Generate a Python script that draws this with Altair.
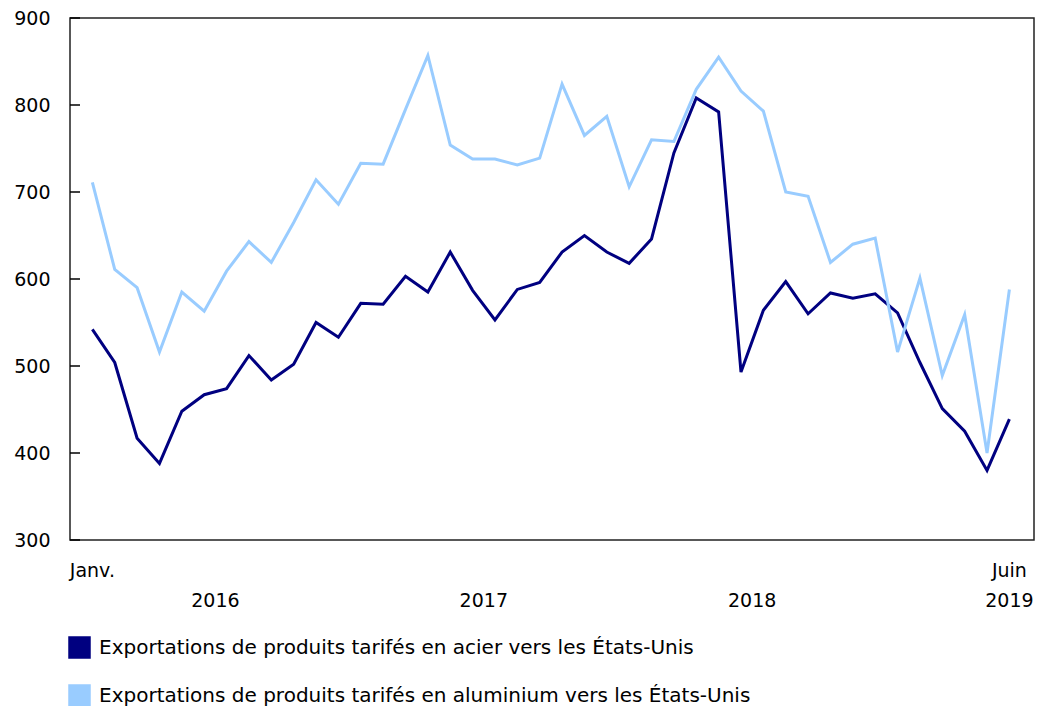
import altair as alt
import pandas as pd

months = list(range(42))  # Jan 2016 .. Jun 2019
steel = [542, 504, 417, 388, 448, 467, 474, 512, 484, 502, 550, 533,
         572, 571, 603, 585, 631, 587, 553, 588, 596, 631, 650, 631,
         618, 646, 745, 808, 792, 493, 564, 597, 560, 584, 578, 583,
         561, 504, 451, 425, 380, 439]
aluminium = [711, 611, 590, 516, 585, 563, 609, 643, 619, 665, 714, 686,
             733, 732, 795, 857, 754, 738, 738, 731, 739, 824, 765, 787,
             706, 760, 758, 818, 855, 816, 793, 700, 695, 619, 640, 647,
             516, 601, 489, 559, 400, 588]
series_names = ["Exportations de produits tarifés en acier vers les États-Unis",
                "Exportations de produits tarifés en aluminium vers les États-Unis"]
series_colors = ["#000080", "#99CCFF"]
y_values = [300, 400, 500, 600, 700, 800, 900]
month_labels = ["Janv.", "Juin"]
month_label_pos = [0, 41]
year_labels = ["2016", "2017", "2018", "2019"]
year_label_pos = [5.5, 17.5, 29.5, 41]

W, H = 964, 522
FONT = "DejaVu Sans"

rows = []
for m, s, a in zip(months, steel, aluminium):
    rows.append({"month": m, "value": s, "series": series_names[0]})
    rows.append({"month": m, "value": a, "series": series_names[1]})
df = pd.DataFrame(rows)

xscale = alt.Scale(domain=[-1, 42.1], nice=False, zero=False)
yscale = alt.Scale(domain=[300, 900], nice=False, zero=False)
cscale = alt.Scale(domain=series_names, range=series_colors)
legend = alt.Legend(title=None, orient="none", legendX=-2, legendY=618,
                    direction="vertical", symbolType="square",
                    symbolSize=441, labelFontSize=20, labelFont=FONT,
                    labelColor="#000", rowPadding=21, labelLimit=900,
                    labelOffset=8, symbolStrokeColor="#333",
                    symbolStrokeWidth=1.5, symbolOpacity=1)

# invisible square layer so that the legend shows filled squares
legend_layer = alt.Chart(df).mark_square(filled=True, size=0).encode(
    x=alt.X("month:Q", scale=xscale, axis=None),
    y=alt.Y("value:Q", scale=yscale),
    color=alt.Color("series:N", scale=cscale, sort=series_names, legend=legend),
)

lines = alt.Chart(df).mark_line(strokeWidth=3).encode(
    x=alt.X("month:Q", scale=xscale, axis=None),
    y=alt.Y("value:Q", scale=yscale,
            axis=alt.Axis(values=y_values, ticks=False, domain=False, grid=False,
                          labelFontSize=19, labelPadding=20, labelColor="#000",
                          labelFont=FONT, title=None)),
    color=alt.Color("series:N", scale=cscale, sort=series_names, legend=legend),
)

yt_df = pd.DataFrame({"v": y_values})
y_ticks = alt.Chart(yt_df).mark_rule(color="#000", strokeWidth=1.5).encode(
    y=alt.Y("v:Q", scale=yscale), x=alt.value(0), x2=alt.value(10))

ml_df = pd.DataFrame({"label": month_labels, "pos": month_label_pos})
month_text = alt.Chart(ml_df).mark_text(fontSize=19, font=FONT, color="#000",
                                        baseline="middle", align="center").encode(
    x=alt.X("pos:Q", scale=xscale), y=alt.value(H + 31), text="label:N")

yl_df = pd.DataFrame({"label": year_labels, "pos": year_label_pos})
year_text = alt.Chart(yl_df).mark_text(fontSize=19, font=FONT, color="#000",
                                       baseline="middle", align="center").encode(
    x=alt.X("pos:Q", scale=xscale), y=alt.value(H + 61), text="label:N")

chart = alt.layer(legend_layer, y_ticks, lines, month_text, year_text).properties(
    width=W, height=H,
    autosize=alt.AutoSizeParams(type="none"),
    padding={"left": 62, "top": 10, "right": 2, "bottom": 166},
).configure_view(stroke="#222", strokeWidth=1.5)

chart.save("out.html", embed_options={"renderer": "svg", "actions": False})
